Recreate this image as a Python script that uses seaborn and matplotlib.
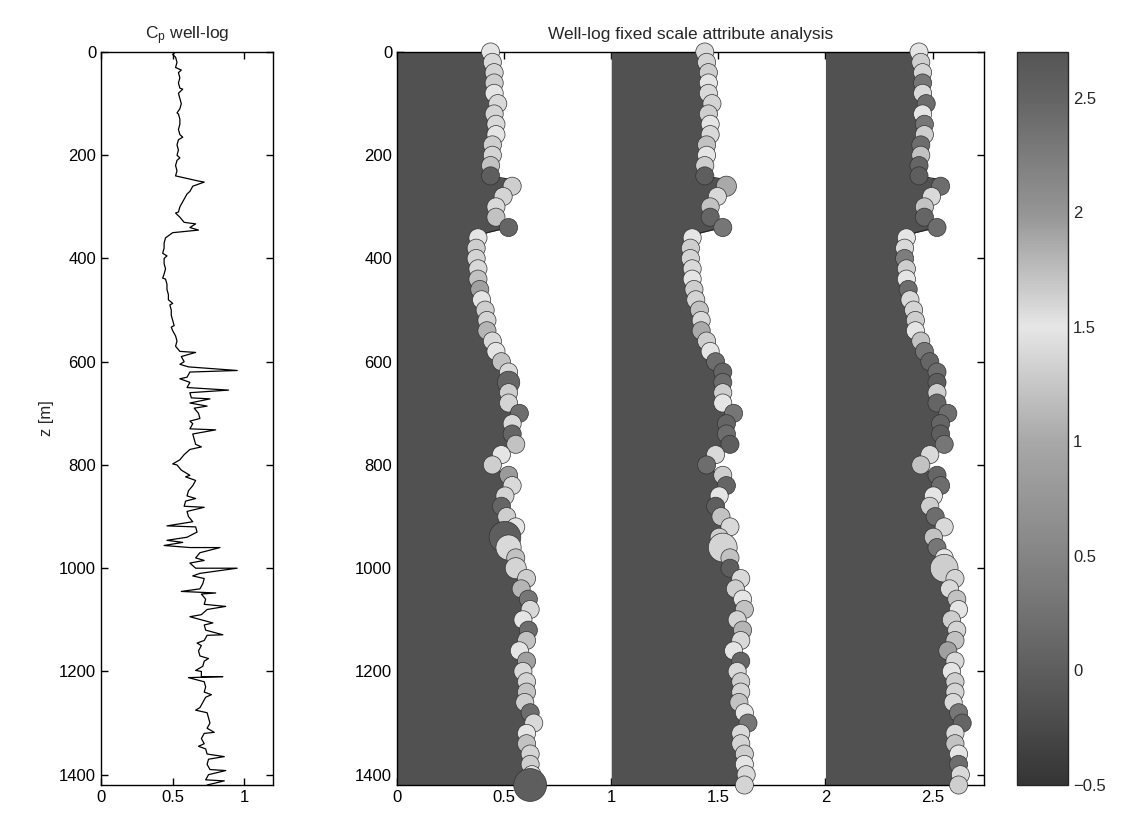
import numpy as np
import pandas as pd
import matplotlib
matplotlib.use("Agg")
import matplotlib.pyplot as plt
import seaborn as sns
from matplotlib.colors import LinearSegmentedColormap, Normalize
from matplotlib.cm import ScalarMappable

# ---------------- data ----------------
depth = np.arange(0, 1421, 10)  # m, sampling of the log
cp = [
    0.52, 0.52, 0.53, 0.52, 0.54, 0.55, 0.54, 0.55, 0.54, 0.55,
    0.56, 0.55, 0.54, 0.55, 0.55, 0.54, 0.55, 0.54, 0.53, 0.54,
    0.53, 0.53, 0.52, 0.53, 0.52, 0.68, 0.64, 0.62, 0.59, 0.57,
    0.55, 0.54, 0.55, 0.58, 0.62, 0.50, 0.45, 0.44, 0.44, 0.43,
    0.44, 0.44, 0.45, 0.44, 0.45, 0.46, 0.46, 0.47, 0.47, 0.48,
    0.49, 0.49, 0.50, 0.51, 0.50, 0.52, 0.53, 0.52, 0.55, 0.56,
    0.58, 0.61, 0.62, 0.60, 0.62, 0.60, 0.62, 0.63, 0.62, 0.65,
    0.68, 0.69, 0.64, 0.62, 0.64, 0.65, 0.66, 0.62, 0.58, 0.55,
    0.53, 0.56, 0.62, 0.66, 0.64, 0.61, 0.60, 0.59, 0.58, 0.60,
    0.61, 0.64, 0.66, 0.67, 0.60, 0.57, 0.62, 0.69, 0.66, 0.62,
    0.66, 0.69, 0.72, 0.71, 0.69, 0.70, 0.73, 0.72, 0.74, 0.70,
    0.70, 0.72, 0.73, 0.74, 0.72, 0.70, 0.68, 0.69, 0.72, 0.71,
    0.70, 0.70, 0.72, 0.73, 0.72, 0.73, 0.71, 0.69, 0.74, 0.75,
    0.76, 0.74, 0.72, 0.70, 0.72, 0.73, 0.74, 0.75, 0.74, 0.76,
    0.75, 0.73, 0.74,
]
# short spikes / jitter of the log
spike_z = [5, 35, 72, 118, 165, 205, 252, 275, 312, 333, 345, 395, 438, 487, 533,
           582, 605, 617, 633, 655, 672, 686, 715, 732, 765, 798, 823, 865, 882, 918,
           946, 956, 960, 985, 1000, 1015, 1045, 1048, 1074, 1094, 1106, 1129, 1145,
           1175, 1198, 1210, 1212, 1245, 1275, 1318, 1345, 1365, 1392, 1412]
spike_cp = [0.50, 0.56, 0.57, 0.53, 0.57, 0.55, 0.72, 0.60, 0.52, 0.66, 0.68, 0.46, 0.43, 0.50, 0.49,
            0.66, 0.55, 0.95, 0.55, 0.89, 0.76, 0.74, 0.62, 0.80, 0.70, 0.50, 0.59, 0.66, 0.72, 0.46,
            0.46, 0.44, 0.83, 0.72, 0.95, 0.64, 0.56, 0.80, 0.87, 0.62, 0.78, 0.85, 0.67,
            0.75, 0.66, 0.85, 0.61, 0.77, 0.66, 0.79, 0.68, 0.86, 0.87, 0.86]

# circle attributes (every 20 m) for the three fixed-scale columns
attr1 = [1.5, 1.4, 1.6, 1.3, 1.5, 1.4, 1.6, 1.4, 1.5, 1.3, 1.6, 1.2, 0.0, 1.3, 1.6, 1.4, 1.2, 0.1,
         1.5, 1.3, 1.6, 1.4, 1.2, 0.9, 1.5, 1.3, 1.6, 1.1, 1.4, 1.5, 1.2, 1.4, 0.1, 1.3, 1.6, 0.2,
         1.4, 0.1, 1.2, 1.5, 1.3, 0.8, 1.4, 1.6, 0.1, 1.3, 1.5, 0.0, 1.4, 1.2, 1.6, 1.3, 1.1, 0.3,
         1.4, 1.5, 0.2, 1.2, 1.5, 0.9, 1.4, 1.6, 1.7, 1.3, 0.2, 1.4, 1.5, 1.2, 1.6, 1.3, 1.5, 0.0]
attr2 = [1.4, 1.6, 1.3, 1.5, 1.4, 1.6, 1.3, 1.5, 1.4, 1.2, 1.5, 1.3, 0.0, 1.0, 1.4, 1.2, 0.1, 0.3,
         1.5, 1.3, 1.6, 1.4, 1.5, 1.3, 1.6, 1.2, 1.4, 1.0, 1.3, 1.5, 0.2, 0.1, 0.2, 1.3, 1.5, 0.3,
         0.1, 0.2, 0.0, 1.4, 0.2, 1.3, 0.1, 1.5, 0.0, 1.2, 1.4, 1.3, 1.6, 1.2, 0.0, 1.4, 1.3, 1.5,
         1.2, 1.6, 1.1, 1.4, 1.5, 0.1, 1.4, 1.3, 1.6, 1.2, 1.5, 0.3, 1.4, 1.6, 1.3, 1.5, 1.4, 1.6]
attr3 = [1.5, 1.3, 1.6, 0.3, 1.4, 0.2, 1.5, 0.3, 1.3, 0.2, 1.2, 0.1, 0.0, 0.2, 1.4, 1.2, 0.1, 0.2,
         1.5, 1.4, 0.4, 1.3, 1.5, 0.2, 1.4, 1.6, 1.3, 1.5, 1.2, 0.3, 0.1, 0.2, 0.0, 1.3, 0.1, 0.2,
         0.1, 0.0, 0.3, 1.4, 1.2, 0.1, 0.2, 1.5, 1.3, 0.2, 1.4, 1.2, 0.3, 1.5, 1.3, 1.6, 1.4, 1.2,
         1.5, 1.3, 1.6, 1.2, 0.9, 1.4, 1.5, 1.3, 1.6, 1.4, 0.3, 0.1, 1.4, 1.2, 1.5, 0.2, 1.4, 1.3]
# circle sizes (scale of the attribute), points^2
size1 = [170] * 72
size1[32] = 260; size1[47] = 520; size1[48] = 330; size1[50] = 230; size1[71] = 560
size2 = [170] * 72
size2[13] = 210; size2[48] = 430
size3 = [170] * 72
size3[50] = 400

cbar_ticks = [-0.5, 0, 0.5, 1, 1.5, 2, 2.5]
left_xticks = [0, 0.5, 1]
right_xticks = [0, 0.5, 1, 1.5, 2, 2.5]
z_ticks = [0, 200, 400, 600, 800, 1000, 1200, 1400]

# ---------------- style ----------------
sns.set_theme(style="ticks")
plt.rcParams["font.family"] = ["Liberation Sans", "DejaVu Sans"]
plt.rcParams["mathtext.fontset"] = "custom"
plt.rcParams["mathtext.rm"] = "Liberation Sans"
plt.rcParams["mathtext.it"] = "Liberation Sans"
plt.rcParams["font.size"] = 12

cmap = LinearSegmentedColormap.from_list(
    "vgray",
    [(0.0, "#353535"), (0.156, "#5e5e5e"), (0.3125, "#858585"), (0.469, "#a8a8a8"),
     (0.625, "#e6e6e6"), (0.781, "#959595"), (0.9375, "#646464"), (1.0, "#555555")])
norm = Normalize(vmin=-0.5, vmax=2.7)
fill_color = cmap(norm(-0.15))

fig = plt.figure(figsize=(11.24, 8.15), dpi=100)
ax1 = fig.add_axes([0.0899, 0.0368, 0.153, 0.8994])
ax2 = fig.add_axes([0.3532, 0.0368, 0.5222, 0.8994])
cax = fig.add_axes([0.9048, 0.0368, 0.0454, 0.8994])

cp = np.array(cp)
log_df = pd.concat([
    pd.DataFrame({"z": depth, "cp": cp}),
    pd.DataFrame({"z": spike_z, "cp": spike_cp}),
]).sort_values("z", kind="stable").reset_index(drop=True)

# left: Cp well log
sns.lineplot(data=log_df, x="cp", y="z", sort=False, orient="y", estimator=None,
             color="black", lw=0.9, ax=ax1)
ax1.set_xlim(0, 1.2)
ax1.set_ylim(1420, 0)
ax1.set_xticks(left_xticks)
ax1.set_xticklabels(["0", "0.5", "1"])
ax1.set_yticks(z_ticks)
ax1.set_xlabel("")
ax1.set_ylabel("z [m]", fontsize=12)
ax1.set_title(r"C$_{\rm p}$ well-log", fontsize=12.5, pad=9)

# right: fixed-scale attribute analysis
scale = 0.84
rows = []
for k, (attr, sz) in enumerate([(attr1, size1), (attr2, size2), (attr3, size3)]):
    ax2.fill_betweenx(depth, k, k + scale * cp, color=fill_color, lw=0, zorder=1)
    ax2.plot(k + scale * cp, depth, color="#222222", lw=0.8, zorder=2)
    rows.append(pd.DataFrame({"x": k + scale * cp[::2], "z": depth[::2],
                              "attr": attr, "size": sz}))
circ = pd.concat(rows, ignore_index=True)
sns.scatterplot(data=circ, x="x", y="z", hue="attr", palette=cmap, hue_norm=norm,
                size="size", sizes=(170, 560), size_norm=(170, 560),
                edgecolor="#333333", linewidth=0.5, legend=False, ax=ax2,
                zorder=3, clip_on=False)
ax2.set_xlim(0, 2.74)
ax2.set_ylim(1420, 0)
ax2.set_xticks(right_xticks)
ax2.set_xticklabels(["0", "0.5", "1", "1.5", "2", "2.5"])
ax2.set_yticks(z_ticks)
ax2.set_xlabel("")
ax2.set_ylabel("")
ax2.set_title("Well-log fixed scale attribute analysis", fontsize=12.5, pad=9)

for ax in (ax1, ax2):
    ax.tick_params(direction="in", top=True, right=True, length=5, width=1,
                   labelsize=12, colors="black")
    for s in ax.spines.values():
        s.set_visible(True)
        s.set_linewidth(1.0)
        s.set_color("black")

sm = ScalarMappable(norm=norm, cmap=cmap)
cb = fig.colorbar(sm, cax=cax, ticks=cbar_ticks)
cb.ax.set_yticklabels(["\u22120.5", "0", "0.5", "1", "1.5", "2", "2.5"])
cb.ax.tick_params(direction="in", length=5, labelsize=12, right=True, left=True)
cb.outline.set_linewidth(1.0)

fig.savefig("out.png", dpi=100)
